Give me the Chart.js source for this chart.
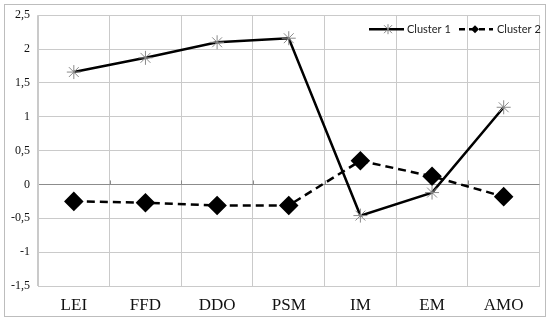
<!DOCTYPE html>
<html>
<head>
<meta charset="utf-8">
<script src="https://cdn.jsdelivr.net/npm/chart.js@4"></script>
<style>
  body { margin: 0; background: #fff; }
  #wrap { width: 550px; height: 322px; }
</style>
</head>
<body>
<div id="wrap"><canvas id="myChart" width="550" height="322"></canvas></div>
<script>
let categories = ['LEI', 'FFD', 'DDO', 'PSM', 'IM', 'EM', 'AMO'];
let cluster1 = [1.66, 1.87, 2.1, 2.16, -0.46, -0.12, 1.14];
let cluster2 = [-0.25, -0.27, -0.31, -0.31, 0.35, 0.12, -0.18];
let seriesNames = ['Cluster 1', 'Cluster 2'];

// frame round the picture and the legend inside the plot, Excel style
let excelLegend = {
	id : 'excelLegend',
	afterDraw(chart) {
		let c = chart.ctx;
		c.save();
		c.strokeStyle = '#bdbdbd';
		c.lineWidth = 1;
		c.strokeRect(4.5, 4.5, 541, 312);

		// small ticks across the zero line, between categories
		let xs = chart.scales.x, y0 = chart.scales.y.getPixelForValue(0);
		c.strokeStyle = '#8c8c8c';
		c.beginPath();
		for (let i = 0; i < categories.length - 1; i++) {
			let bx = Math.round((xs.getPixelForValue(i) + xs.getPixelForValue(i + 1)) / 2) + 0.5;
			c.moveTo(bx, y0 - 4); c.lineTo(bx, y0);
		}
		c.stroke();

		let y = chart.chartArea.top + 14;
		c.font = '11px Lato, "Liberation Sans", sans-serif';
		c.textBaseline = 'middle';
		c.fillStyle = '#222';

		// Cluster 1
		c.strokeStyle = '#000';
		c.lineWidth = 2.5;
		c.setLineDash([]);
		c.beginPath(); c.moveTo(369, y); c.lineTo(404, y); c.stroke();
		c.strokeStyle = '#888';
		c.lineWidth = 1;
		c.beginPath();
		c.moveTo(384, y - 4); c.lineTo(392, y + 4);
		c.moveTo(392, y - 4); c.lineTo(384, y + 4);
		c.moveTo(388, y - 5); c.lineTo(388, y + 5);
		c.stroke();
		c.fillText(seriesNames[0], 407, y);

		// Cluster 2
		c.strokeStyle = '#000';
		c.lineWidth = 2.5;
		c.setLineDash([6, 4]);
		c.beginPath(); c.moveTo(459, y); c.lineTo(493, y); c.stroke();
		c.setLineDash([]);
		c.fillStyle = '#000';
		c.beginPath();
		c.moveTo(475, y - 4); c.lineTo(479, y); c.lineTo(475, y + 4); c.lineTo(471, y);
		c.closePath(); c.fill();
		c.fillStyle = '#222';
		c.fillText(seriesNames[1], 497, y);
		c.restore();
	}
};

let lineChart = new Chart(document.getElementById('myChart').getContext('2d'), {
	type : 'line',
	data : {
		labels : categories,
		datasets : [ {
			label : seriesNames[0],
			data : cluster1,
			borderColor : '#000',
			borderWidth : 2.5,
			pointStyle : 'star',
			pointRadius : 7,
			pointBorderColor : '#8a8a8a',
			pointBorderWidth : 1,
			pointBackgroundColor : '#8a8a8a',
			tension : 0
		}, {
			label : seriesNames[1],
			data : cluster2,
			borderColor : '#000',
			borderWidth : 2.5,
			borderDash : [ 8, 5 ],
			pointStyle : 'rectRot',
			pointRadius : 8,
			pointBorderColor : '#000',
			pointBackgroundColor : '#000',
			tension : 0
		} ]
	},
	options : {
		responsive : false,
		animation : false,
		layout : {
			padding : { left : 0, right : 7, top : 14, bottom : 0 }
		},
		plugins : {
			legend : { display : false },
			tooltip : { enabled : false }
		},
		scales : {
			x : {
				offset : true,
				afterFit(scale) { scale.height = 36; },
				grid : { color : '#cacaca', offset : true, drawTicks : false },
				border : { color : '#cacaca' },
				ticks : {
					color : '#111',
					padding : 9,
					font : { family : '"Liberation Serif", "DejaVu Serif", serif', size : 17 }
				}
			},
			y : {
				min : -1.5,
				max : 2.5,
				afterFit(scale) { scale.width = 38; },
				grid : {
					color : ctx => ctx.tick && ctx.tick.value === 0 ? '#8c8c8c' : '#cacaca',
					drawTicks : false
				},
				border : { color : '#cacaca' },
				ticks : {
					stepSize : 0.5,
					color : '#111',
					padding : 8,
					font : { family : '"Liberation Serif", "DejaVu Serif", serif', size : 12 },
					callback : v => String(v).replace('.', ',')
				}
			}
		}
	},
	plugins : [ excelLegend ]
});
</script>
</body>
</html>
